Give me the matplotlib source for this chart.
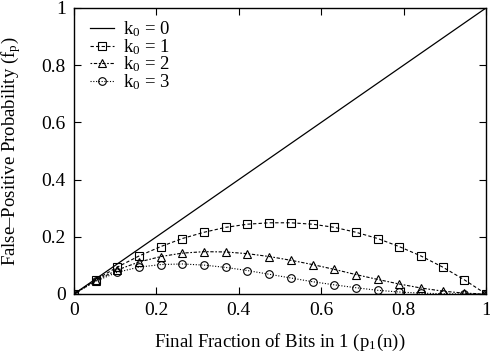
import matplotlib
matplotlib.use("Agg")
import matplotlib.pyplot as plt

# fraction of bits in 1 (x) and false-positive probability per k0
p1 = [0.0, 0.053, 0.105, 0.158, 0.211, 0.263, 0.316, 0.368, 0.421, 0.474,
      0.526, 0.579, 0.632, 0.684, 0.737, 0.789, 0.842, 0.895, 0.947, 1.0]
fp_k0 = [0.0, 1.0]
p_k0 = [0.0, 1.0]
fp_k1 = [0.0, 0.050, 0.094, 0.133, 0.166, 0.194, 0.216, 0.233, 0.244, 0.249,
         0.249, 0.244, 0.233, 0.216, 0.194, 0.166, 0.133, 0.094, 0.050, 0.0]
fp_k2 = [0.0, 0.047, 0.084, 0.112, 0.131, 0.143, 0.148, 0.147, 0.141, 0.131,
         0.118, 0.103, 0.086, 0.068, 0.051, 0.035, 0.021, 0.010, 0.003, 0.0]
fp_k3 = [0.0, 0.045, 0.076, 0.094, 0.103, 0.105, 0.101, 0.093, 0.082, 0.069,
         0.056, 0.043, 0.032, 0.022, 0.013, 0.007, 0.003, 0.001, 0.000, 0.0]
ticks = [0, 0.2, 0.4, 0.6, 0.8, 1]
tick_labels = ["0", "0.2", "0.4", "0.6", "0.8", "1"]

plt.rcParams["font.family"] = ["Liberation Serif", "DejaVu Serif"]
plt.rcParams["mathtext.fontset"] = "stix"

fig = plt.figure(figsize=(4.9, 3.56), dpi=100)
ax = fig.add_axes([74 / 490, 1 - 294 / 356, 412 / 490, 286 / 356])

ax.plot(p_k0, fp_k0, color="black", lw=0.9, label=r"$\mathregular{k_0}$ = 0")
ax.plot(p1, fp_k1, color="black", lw=0.8, ls=(0, (3, 2)), marker="s", ms=5.5,
        mfc="none", mew=0.8, label=r"$\mathregular{k_0}$ = 1")
ax.plot(p1, fp_k2, color="black", lw=0.8, ls=(0, (1.5, 1.5, 3, 1.5)), marker="^", ms=5.5,
        mfc="none", mew=0.8, label=r"$\mathregular{k_0}$ = 2")
ax.plot(p1, fp_k3, color="black", lw=0.8, ls=(0, (1, 1.5)), marker="o", ms=5.5,
        mfc="none", mew=0.8, label=r"$\mathregular{k_0}$ = 3")

ax.set_xlim(0, 1)
ax.set_ylim(0, 1)
ax.set_xticks(ticks)
ax.set_xticklabels(tick_labels)
ax.set_yticks(ticks)
ax.set_yticklabels(tick_labels)
ax.tick_params(direction="in", top=True, right=True, length=5, labelsize=14, pad=6)
for s in ax.spines.values():
    s.set_linewidth(1.0)

ax.set_xlabel(r"Final Fraction of Bits in 1 (p$_\mathregular{1}$(n))", fontsize=13.5, labelpad=9)
ax.set_ylabel(r"False–Positive Probability (f$_\mathregular{p}$)", fontsize=13.5, labelpad=13)

ax.legend(loc="upper left", frameon=False, fontsize=13.5, handlelength=1.3,
          labelspacing=-0.12, handletextpad=0.45, borderaxespad=0.0,
          bbox_to_anchor=(0.02, 0.985))

fig.savefig("out.png", dpi=100)
